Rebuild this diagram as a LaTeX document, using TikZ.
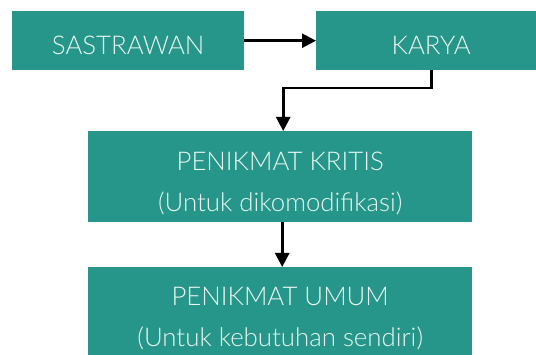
\documentclass[tikz,border=0pt]{standalone}
\usepackage{fontspec}
\setmainfont{Lato}[UprightFont=* Light]
\usetikzlibrary{arrows.meta}
\definecolor{boxteal}{HTML}{26968A}
\definecolor{boxtext}{HTML}{EAF8F2}
\begin{document}
\begin{tikzpicture}[x=1pt,y=-1pt,
  tealbox/.style={fill=boxteal,draw=none,inner sep=0pt,anchor=north west},
  boxlabel/.style={text=boxtext,inner sep=0pt,anchor=base,font=\fontsize{25.8}{30}\selectfont},
  flow/.style={line width=2.6pt,-{Triangle[length=14pt,width=14pt]}}]
  \useasboundingbox (0,0) rectangle (536,355);
  % boxes
  \node[tealbox,minimum width=232pt,minimum height=59pt] (sas) at (12,11) {};
  \node[tealbox,minimum width=230pt,minimum height=59pt] (kar) at (316,11) {};
  \node[tealbox,minimum width=384pt,minimum height=91pt] (kri) at (88,131) {};
  \node[tealbox,minimum width=384pt,minimum height=91pt] (umu) at (88,267) {};
  % labels, placed on their baselines
  \node[boxlabel] (sastxt) at (sas.center |- 0,54.3) {SASTRAWAN};
  \node[boxlabel] (kartxt) at (kar.center |- 0,54.3) {KARYA};
  \node[boxlabel] (kri1) at (kri.center |- 0,170.7) {PENIKMAT KRITIS};
  \node[boxlabel] (kri2) at (kri.center |- 0,211.7) {(Untuk dikomodifikasi)};
  \node[boxlabel] (umu1) at (umu.center |- 0,305.7) {PENIKMAT UMUM};
  \node[boxlabel] (umu2) at (umu.center |- 0,346.7) {(Untuk kebutuhan sendiri)};
  % connectors
  \coordinate (bend) at (kar.south |- 0,88);
  \coordinate (drop) at ([xshift=3pt]kri.north |- bend);
  \draw[flow] (sas.east) -- (kar.west);
  \draw[flow] (kar.south) -- (bend) -- (drop) -- (drop |- kri.north);
  \draw[flow] ([xshift=2pt]kri.south) -- ([xshift=2pt]umu.north);
\end{tikzpicture}
\end{document}
